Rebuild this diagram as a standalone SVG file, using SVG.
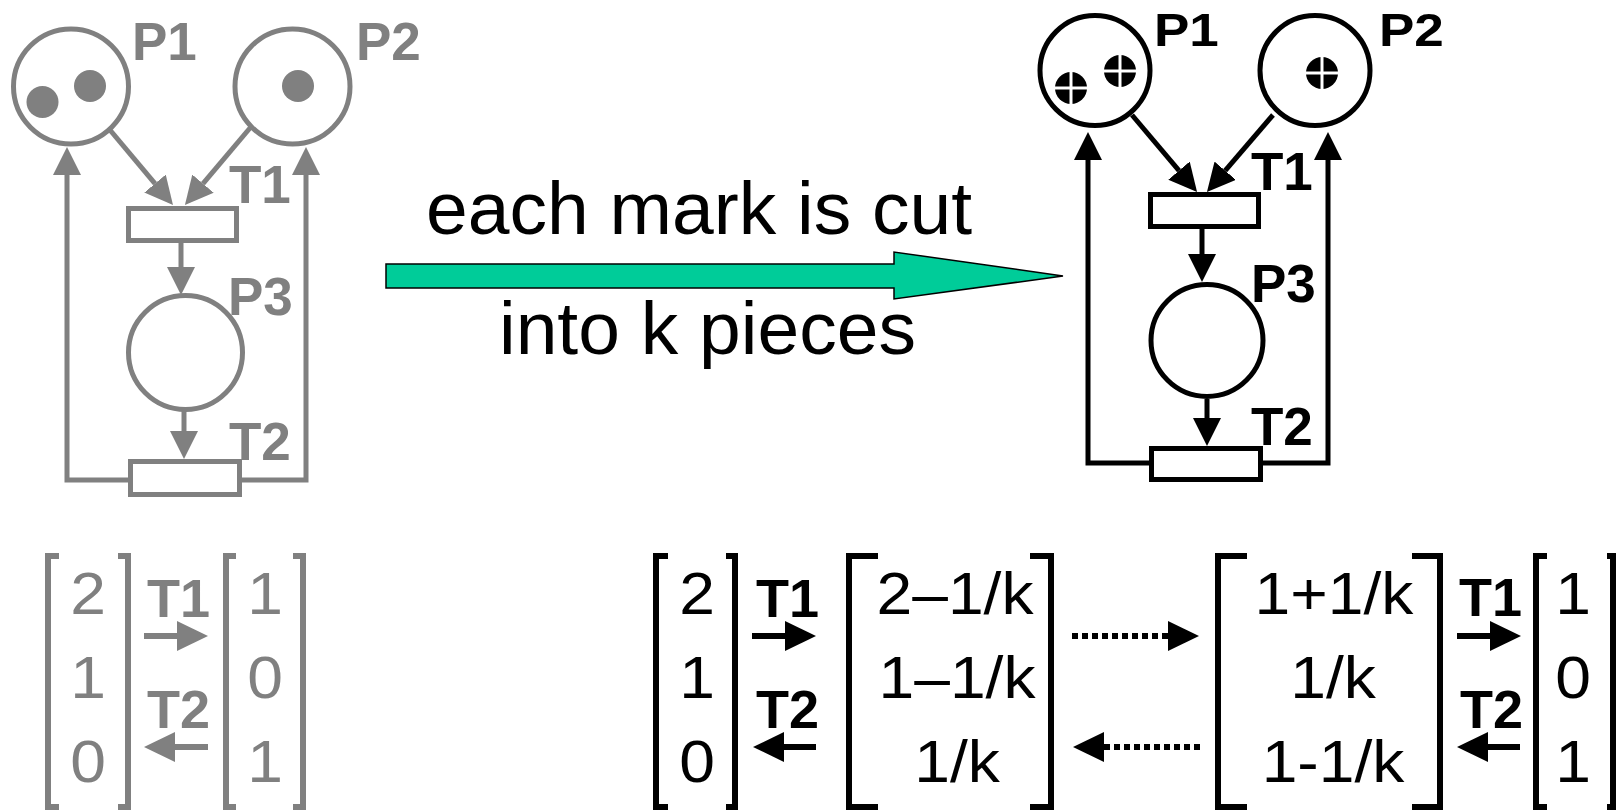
<svg xmlns="http://www.w3.org/2000/svg" width="1622" height="810" viewBox="0 0 1622 810">
<style>
.g{stroke:#808080;fill:none;stroke-width:5}
.b{stroke:#000;fill:none;stroke-width:5}
.gf{fill:#808080}
.bf{fill:#000}
.place-g{fill:#fff;stroke:#808080;stroke-width:5}
.place-b{fill:#fff;stroke:#000;stroke-width:5}
.lbl{font-family:"Liberation Sans",Arial,sans-serif;font-weight:bold;font-size:53px}
.num{font-family:"Liberation Sans",Arial,sans-serif;font-size:60px;text-anchor:middle}
.big{font-family:"Liberation Sans",Arial,sans-serif;font-size:75px;fill:#000}
.br-g{stroke:#808080;stroke-width:6;fill:none}
.br-b{stroke:#000;stroke-width:6;fill:none}
.cross{stroke:#fff;stroke-width:3}
</style>
<defs>
<marker id="ag" markerUnits="userSpaceOnUse" markerWidth="28" markerHeight="28" refX="0" refY="14" orient="auto" viewBox="0 0 28 28"><path d="M0,0 L28,14 L0,28 z" fill="#808080"/></marker>
<marker id="ab" markerUnits="userSpaceOnUse" markerWidth="28" markerHeight="28" refX="0" refY="14" orient="auto" viewBox="0 0 28 28"><path d="M0,0 L28,14 L0,28 z" fill="#000"/></marker>
<marker id="sg" markerUnits="userSpaceOnUse" markerWidth="31" markerHeight="30" refX="0" refY="15" orient="auto" viewBox="0 0 31 30"><path d="M0,0 L31,15 L0,30 z" fill="#808080"/></marker>
<marker id="sb" markerUnits="userSpaceOnUse" markerWidth="31" markerHeight="30" refX="0" refY="15" orient="auto" viewBox="0 0 31 30"><path d="M0,0 L31,15 L0,30 z" fill="#000"/></marker>
</defs>

<!-- Left (gray) net -->
<g id="L-P1">
<circle class="place-g" cx="71" cy="86.5" r="57.5"/>
<circle class="gf" cx="42.5" cy="102" r="16"/>
<circle class="gf" cx="90" cy="86" r="16"/>
<text class="lbl gf" x="132" y="60">P1</text>
</g>
<g id="L-P2">
<circle class="place-g" cx="292.5" cy="86.5" r="57.5"/>
<circle class="gf" cx="298" cy="86" r="16"/>
<text class="lbl gf" x="356" y="60">P2</text>
</g>
<g id="L-T1">
<rect class="place-g" x="128.5" y="208.5" width="108" height="32"/>
<text class="lbl gf" x="229" y="203">T1</text>
</g>
<g id="L-P3">
<circle class="place-g" cx="185.5" cy="352.5" r="57"/>
<text class="lbl gf" x="228" y="315">P3</text>
</g>
<g id="L-T2">
<rect class="place-g" x="130.5" y="461.5" width="109" height="33"/>
<text class="lbl gf" x="229" y="460">T2</text>
</g>

<!-- Right (black) net -->
<g id="R-P1">
<circle class="place-b" cx="1095" cy="70.5" r="55"/>
<circle class="bf" cx="1071" cy="88" r="16"/>
<line class="cross" x1="1055" y1="88" x2="1087" y2="88"/><line class="cross" x1="1071" y1="72" x2="1071" y2="104"/>
<circle class="bf" cx="1120" cy="71" r="16"/>
<line class="cross" x1="1104" y1="71" x2="1136" y2="71"/><line class="cross" x1="1120" y1="55" x2="1120" y2="87"/>
<text class="lbl bf" transform="translate(1154,46) scale(1,0.87)">P1</text>
</g>
<g id="R-P2">
<circle class="place-b" cx="1315" cy="70.5" r="55"/>
<circle class="bf" cx="1322" cy="73" r="16"/>
<line class="cross" x1="1306" y1="73" x2="1338" y2="73"/><line class="cross" x1="1322" y1="57" x2="1322" y2="89"/>
<text class="lbl bf" transform="translate(1379,46) scale(1,0.87)">P2</text>
</g>
<g id="R-T1">
<rect class="place-b" x="1150.5" y="194.5" width="108" height="32"/>
<text class="lbl bf" x="1251" y="190">T1</text>
</g>
<g id="R-P3">
<circle class="place-b" cx="1207" cy="340.5" r="56"/>
<text class="lbl bf" x="1251" y="302">P3</text>
</g>
<g id="R-T2">
<rect class="place-b" x="1151.5" y="448.5" width="109" height="31"/>
<text class="lbl bf" x="1251" y="445">T2</text>
</g>

<!-- Connectors -->
<g id="connectors">
<line class="g" x1="110" y1="130" x2="155" y2="183.6" marker-end="url(#ag)"/>
<line class="g" x1="250" y1="128" x2="203" y2="183.6" marker-end="url(#ag)"/>
<line class="g" x1="181" y1="243" x2="181" y2="267" marker-end="url(#ag)"/>
<line class="g" x1="184" y1="410" x2="184" y2="431" marker-end="url(#ag)"/>
<polyline class="g" points="128,480 67,480 67,175" marker-end="url(#ag)"/>
<polyline class="g" points="242,480 306,480 306,175" marker-end="url(#ag)"/>

<line class="b" x1="1132" y1="115" x2="1179" y2="170.6" marker-end="url(#ab)"/>
<line class="b" x1="1273" y1="115" x2="1225.2" y2="170.7" marker-end="url(#ab)"/>
<line class="b" x1="1202" y1="229" x2="1202" y2="254" marker-end="url(#ab)"/>
<line class="b" x1="1207" y1="399" x2="1207" y2="418" marker-end="url(#ab)"/>
<polyline class="b" points="1149,463 1088,463 1088,160" marker-end="url(#ab)"/>
<polyline class="b" points="1263,463 1328,463 1328,160" marker-end="url(#ab)"/>
</g>

<!-- Big transformation arrow -->
<g id="transform-arrow">
<polygon points="386,264 894,264 894,252 1063,276 894,299 894,288 386,288" fill="#00CC99" stroke="#000" stroke-width="1.5"/>
<text class="big" x="426" y="234">each mark is cut</text>
<text class="big" x="499" y="354">into k pieces</text>
</g>

<!-- Gray markings -->
<g id="L-markings">
<path class="br-g" d="M59,556 H48 V807 H59"/>
<path class="br-g" d="M118,556 H128 V807 H118"/>
<path class="br-g" d="M236,556 H226 V807 H236"/>
<path class="br-g" d="M293,556 H303 V807 H293"/>
<g class="gf">
<text class="num" transform="translate(88,614) scale(1.07,1)">2</text>
<text class="num" transform="translate(88,698) scale(1.07,1)">1</text>
<text class="num" transform="translate(88,782) scale(1.07,1)">0</text>
<text class="num" transform="translate(265,614) scale(1.07,1)">1</text>
<text class="num" transform="translate(265,698) scale(1.07,1)">0</text>
<text class="num" transform="translate(265,782) scale(1.07,1)">1</text>
<text class="lbl" x="147" y="617" style="font-size:54px">T1</text>
<text class="lbl" x="147" y="728" style="font-size:54px">T2</text>
</g>
<line stroke="#808080" stroke-width="6" x1="144" y1="636" x2="177" y2="636" marker-end="url(#sg)"/>
<line stroke="#808080" stroke-width="6" x1="208" y1="747" x2="175" y2="747" marker-end="url(#sg)"/>
</g>

<!-- Black markings -->
<g id="R-markings">
<path class="br-b" d="M668,556 H656 V807 H668"/>
<path class="br-b" d="M726,556 H735 V807 H726"/>
<path class="br-b" d="M878,556 H849 V807 H878"/>
<path class="br-b" d="M1030,556 H1051 V807 H1030"/>
<path class="br-b" d="M1247,556 H1218 V807 H1247"/>
<path class="br-b" d="M1412,556 H1440 V807 H1412"/>
<path class="br-b" d="M1547,556 H1536 V807 H1547"/>
<path class="br-b" d="M1607,556 H1613 V807 H1607"/>
<g class="bf">
<text class="num" transform="translate(697,614) scale(1.07,1)">2</text>
<text class="num" transform="translate(697,698) scale(1.07,1)">1</text>
<text class="num" transform="translate(697,782) scale(1.07,1)">0</text>
<text class="num" transform="translate(955,614) scale(1.07,1)">2–1/k</text>
<text class="num" transform="translate(957,698) scale(1.07,1)">1–1/k</text>
<text class="num" transform="translate(957,782) scale(1.07,1)">1/k</text>
<text class="num" transform="translate(1334,614) scale(1.07,1)">1+1/k</text>
<text class="num" transform="translate(1333,698) scale(1.07,1)">1/k</text>
<text class="num" transform="translate(1333,782) scale(1.07,1)">1-1/k</text>
<text class="num" transform="translate(1573,614) scale(1.07,1)">1</text>
<text class="num" transform="translate(1573,698) scale(1.07,1)">0</text>
<text class="num" transform="translate(1573,782) scale(1.07,1)">1</text>
<text class="lbl" x="756" y="617" style="font-size:54px">T1</text>
<text class="lbl" x="756" y="728" style="font-size:54px">T2</text>
<text class="lbl" x="1459" y="616" style="font-size:54px">T1</text>
<text class="lbl" x="1460" y="728" style="font-size:54px">T2</text>
</g>
<line stroke="#000" stroke-width="6" x1="752" y1="636" x2="785" y2="636" marker-end="url(#sb)"/>
<line stroke="#000" stroke-width="6" x1="816" y1="747" x2="784" y2="747" marker-end="url(#sb)"/>
<line stroke="#000" stroke-width="6" stroke-dasharray="6 4" x1="1072" y1="636" x2="1168" y2="636" marker-end="url(#sb)"/>
<line stroke="#000" stroke-width="6" stroke-dasharray="6 4" x1="1200" y1="747" x2="1104" y2="747" marker-end="url(#sb)"/>
<line stroke="#000" stroke-width="6" x1="1457" y1="636" x2="1490" y2="636" marker-end="url(#sb)"/>
<line stroke="#000" stroke-width="6" x1="1520" y1="747" x2="1488" y2="747" marker-end="url(#sb)"/>
</g>
</svg>
